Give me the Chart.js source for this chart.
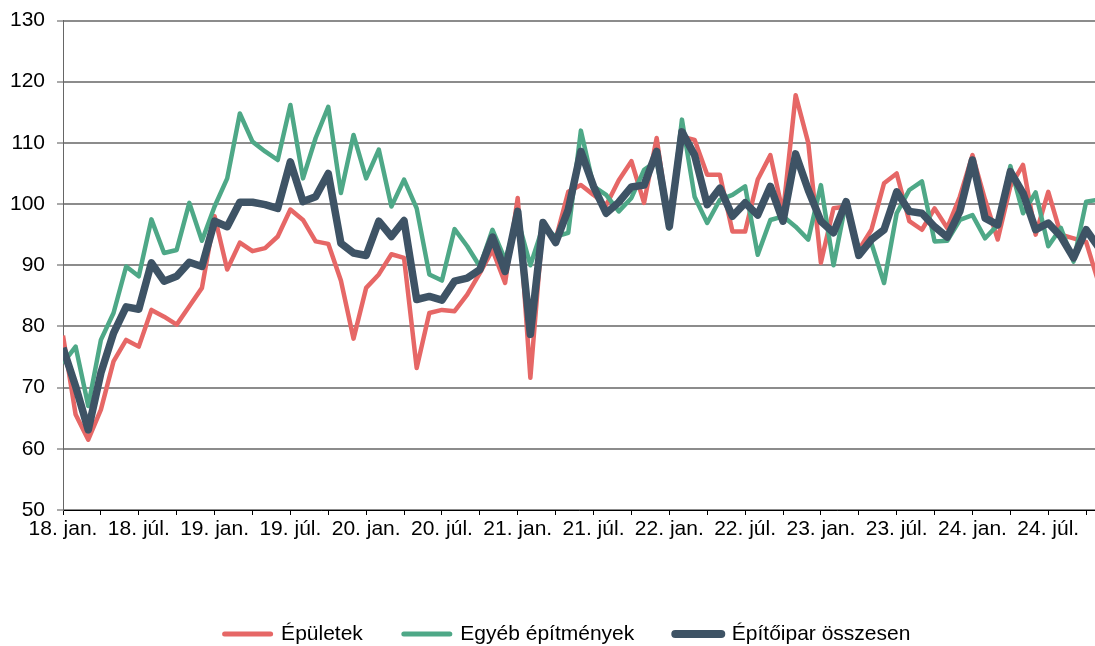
<!DOCTYPE html>
<html>
<head>
<meta charset="utf-8">
<script src="https://cdn.jsdelivr.net/npm/chart.js@4.4.1/dist/chart.umd.min.js"></script>
<style>
  html, body { margin: 0; padding: 0; background: #ffffff; }
  #wrap { width: 1095px; height: 646px; position: relative; }
</style>
</head>
<body>
<div id="wrap"><canvas id="c"></canvas></div>
<script>
// Monthly categories, 2018-01 .. 2024-11
const months = [
  '2018-01','2018-02','2018-03','2018-04','2018-05','2018-06','2018-07','2018-08','2018-09','2018-10','2018-11','2018-12',
  '2019-01','2019-02','2019-03','2019-04','2019-05','2019-06','2019-07','2019-08','2019-09','2019-10','2019-11','2019-12',
  '2020-01','2020-02','2020-03','2020-04','2020-05','2020-06','2020-07','2020-08','2020-09','2020-10','2020-11','2020-12',
  '2021-01','2021-02','2021-03','2021-04','2021-05','2021-06','2021-07','2021-08','2021-09','2021-10','2021-11','2021-12',
  '2022-01','2022-02','2022-03','2022-04','2022-05','2022-06','2022-07','2022-08','2022-09','2022-10','2022-11','2022-12',
  '2023-01','2023-02','2023-03','2023-04','2023-05','2023-06','2023-07','2023-08','2023-09','2023-10','2023-11','2023-12',
  '2024-01','2024-02','2024-03','2024-04','2024-05','2024-06','2024-07','2024-08','2024-09','2024-10','2024-11'
];

// Tick labels (every 6 months) and tick mark positions (every 3 months, month index)
const xTickLabels = ['18. jan.','18. júl.','19. jan.','19. júl.','20. jan.','20. júl.','21. jan.',
                     '21. júl.','22. jan.','22. júl.','23. jan.','23. júl.','24. jan.','24. júl.'];
const xTickPositions = [0,3,6,9,12,15,18,21,24,27,30,33,36,39,42,45,48,51,54,57,60,63,66,69,72,75,78,81];

const epuletek = [
  78.5,65.6,61.5,66.4,74.3,77.8,76.7,82.7,81.6,80.3,83.3,86.3,
  98.0,89.3,93.7,92.3,92.8,94.7,99.1,97.4,93.9,93.5,87.5,78.0,
  86.3,88.5,91.8,91.2,73.2,82.2,82.7,82.5,85.2,88.7,92.5,87.1,
  101.0,71.6,96.9,94.2,102.0,103.1,101.5,99.8,103.9,107.0,100.2,110.8,
  96.3,111.0,110.5,104.8,104.8,95.5,95.5,104.0,108.0,98.5,117.8,110.0,
  90.4,99.3,99.6,92.5,95.8,103.4,105.0,97.2,95.8,99.3,96.1,101.2,
  108.0,100.7,94.2,102.9,106.4,95.0,102.0,95.0,94.4,93.8,87.0
];
const egyeb = [
  74.0,76.7,67.0,77.8,82.2,89.8,88.2,97.5,92.0,92.5,100.2,94.0,
  99.6,104.2,114.8,110.2,108.6,107.2,116.2,104.2,110.8,115.9,101.8,111.3,
  104.2,108.9,99.6,104.0,99.3,88.5,87.5,95.9,93.1,89.8,95.8,90.9,
  97.5,90.0,96.3,94.7,95.3,112.0,102.9,101.5,98.8,101.0,105.6,107.0,
  96.0,113.8,101.2,96.9,100.7,101.5,102.9,91.7,97.4,98.0,96.3,94.2,
  103.1,90.0,100.5,92.5,93.6,87.1,98.5,102.3,103.7,93.9,94.0,97.4,
  98.2,94.4,96.6,106.2,98.5,101.9,93.1,96.1,90.6,100.4,100.7
];
const osszesen = [
  76.5,70.2,63.1,72.4,78.9,83.2,82.8,90.4,87.4,88.2,90.5,89.8,
  97.2,96.3,100.3,100.3,99.9,99.3,106.9,100.4,101.2,105.0,93.6,92.0,
  91.6,97.2,94.7,97.3,84.4,84.9,84.3,87.4,87.9,89.3,94.6,89.0,
  98.8,78.7,97.0,93.7,99.1,108.6,102.9,98.5,100.3,102.8,103.1,108.6,
  96.3,111.8,108.0,99.9,102.6,98.0,100.2,98.2,102.9,97.2,108.2,102.3,
  97.2,95.3,100.4,91.6,94.2,95.8,102.0,98.8,98.5,96.3,94.6,98.8,
  107.2,97.7,96.6,105.3,101.8,95.8,96.9,94.7,91.2,95.8,92.9
];

const seriesNames = ['Épületek', 'Egyéb építmények', 'Építőipar összesen'];

const toPoints = arr => arr.map((v, i) => ({ x: i, y: v }));
const FONT = 'Liberation Sans, Arial, Helvetica, sans-serif';

const RED = '#E66766';
const GREEN = '#4EA887';
const DARK = '#3E5365';

const legendLineWidths = [5, 5, 8];

// shift the legend row so it is centred like the original
const legendShift = {
  id: 'legendShift',
  afterLayout(chart) {
    if (chart.legend) { chart.legend.left = 40; }
  }
};

new Chart(document.getElementById('c'), {
  type: 'line',
  data: {
    datasets: [
      { label: seriesNames[0], data: toPoints(epuletek), borderColor: RED, backgroundColor: RED,
        borderWidth: 4.5, order: 2 },
      { label: seriesNames[1], data: toPoints(egyeb), borderColor: GREEN, backgroundColor: GREEN,
        borderWidth: 4.5, order: 1 },
      { label: seriesNames[2], data: toPoints(osszesen), borderColor: DARK, backgroundColor: DARK,
        borderWidth: 7.5, order: 0 }
    ]
  },
  plugins: [legendShift],
  options: {
    responsive: true,
    maintainAspectRatio: false,
    animation: false,
    devicePixelRatio: 1,
    layout: { padding: { left: 10, right: 0, top: 20.5, bottom: 0 } },
    elements: {
      point: { radius: 0, hoverRadius: 0 },
      line: { tension: 0, borderJoinStyle: 'round', borderCapStyle: 'butt', fill: false }
    },
    plugins: {
      tooltip: { enabled: false },
      legend: {
        position: 'bottom',
        maxHeight: 63.5,
        labels: {
          usePointStyle: true,
          pointStyle: 'line',
          pointStyleWidth: 46,
          boxHeight: 21,
          padding: 41,
          color: '#000000',
          font: { family: FONT, size: 21 },
          sort: (a, b) => a.datasetIndex - b.datasetIndex,
          generateLabels: (chart) => {
            const items = Chart.defaults.plugins.legend.labels.generateLabels(chart);
            return items.map(it => Object.assign(it, {
              lineWidth: legendLineWidths[it.datasetIndex],
              lineCap: 'round',
              pointStyle: 'line',
              strokeStyle: chart.data.datasets[it.datasetIndex].borderColor
            }));
          }
        }
      }
    },
    scales: {
      x: {
        type: 'linear',
        min: 0,
        max: 81.7,
        afterBuildTicks: (s) => { s.ticks = xTickPositions.map(v => ({ value: v })); },
        afterFit: (s) => { s.height = 72.5; },
        grid: {
          display: true,
          drawOnChartArea: false,
          drawTicks: true,
          tickLength: 5,
          tickColor: '#000000',
          tickWidth: 1
        },
        border: { display: true, color: '#000000', width: 1 },
        ticks: {
          autoSkip: false,
          maxRotation: 0,
          minRotation: 0,
          padding: 2,
          color: '#000000',
          font: { family: FONT, size: 21 },
          callback: (value) => (value % 6 === 0 ? xTickLabels[value / 6] : '')
        }
      },
      y: {
        min: 50,
        max: 130,
        afterFit: (s) => { s.width = 53; },
        grid: {
          color: '#8C8C8C',
          lineWidth: 2,
          drawTicks: true,
          tickLength: 6,
          tickColor: '#555555',
          tickWidth: 1
        },
        border: { display: true, color: '#666666', width: 1 },
        ticks: {
          stepSize: 10,
          padding: 12,
          color: '#000000',
          font: { family: FONT, size: 21, lineHeight: 0.6 }
        }
      }
    }
  }
});
</script>
</body>
</html>
